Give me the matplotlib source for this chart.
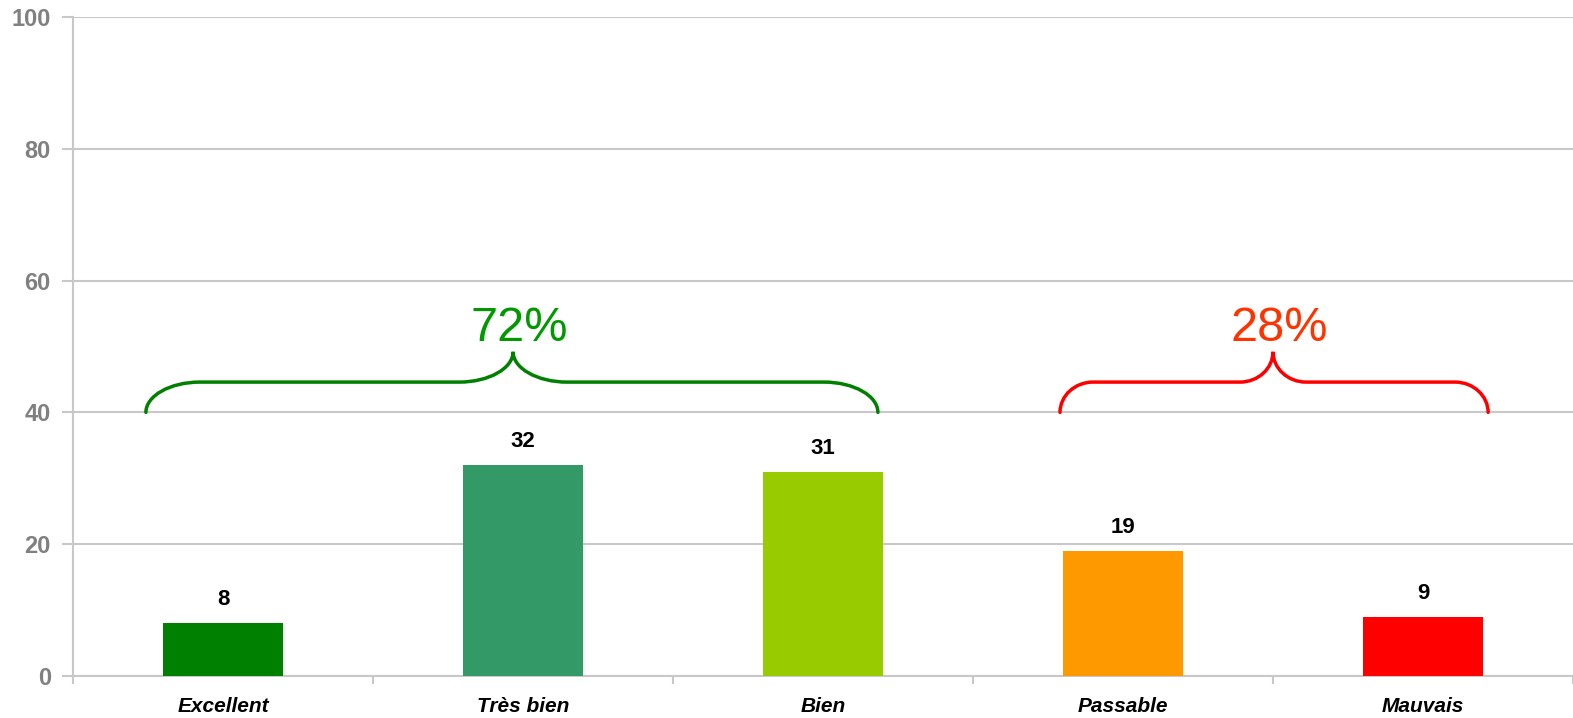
import numpy as np
import matplotlib
matplotlib.use("Agg")
import matplotlib.pyplot as plt
from matplotlib.path import Path
from matplotlib.patches import PathPatch

plt.rcParams['font.family'] = ['Liberation Sans', 'DejaVu Sans']

# Données
categories = ["Excellent", "Très bien", "Bien", "Passable", "Mauvais"]
valeurs = [8, 32, 31, 19, 9]
couleurs = ["#008000", "#339966", "#99CC00", "#FF9900", "#FF0000"]

groupes = ["72%", "28%"]
groupes_debut = [-0.257, 2.79]
groupes_fin = [2.183, 4.217]
groupes_milieu = [0.967, 3.5]
groupes_courbe = [0.18, 0.11]
groupes_couleur_trait = ["#008000", "#FF0000"]
groupes_couleur_texte = ["#009900", "#FF3300"]

fig = plt.figure(figsize=(15.73, 7.18), dpi=100)
ax = fig.add_axes([73 / 1573, 1 - 676 / 718, 1 - 73 / 1573, (676 - 17) / 718])

x = np.arange(len(categories))
ax.bar(x, valeurs, width=0.4, color=couleurs, zorder=3)

for xi, v in zip(x, valeurs):
    ax.text(xi, v + 2.0, str(v), ha="center", va="bottom", fontsize=16,
            fontweight="bold", color="black")

ax.set_xlim(-0.5, len(categories) - 0.5)
ax.set_ylim(0, 100)
ax.set_yticks(np.arange(0, 101, 20))
ax.yaxis.grid(True, color="#C8C8C8", linewidth=1.5, zorder=0)
ax.set_axisbelow(True)

ax.set_xticks(x)
ax.set_xticklabels(categories, fontsize=15, fontweight="bold", style="italic")
ax.set_xticks(np.arange(-0.5, len(categories)), minor=True)
ax.tick_params(axis="x", which="major", length=0, pad=15)
ax.tick_params(axis="x", which="minor", length=6, width=1.5, color="#C8C8C8")
ax.tick_params(axis="y", length=8, width=1.5, color="#C8C8C8", pad=8,
               labelsize=17, labelcolor="#808080")
for lab in ax.get_yticklabels():
    lab.set_fontweight("bold")

for s in ["top", "right"]:
    ax.spines[s].set_visible(False)
for s in ["left", "bottom"]:
    ax.spines[s].set_color("#C8C8C8")
    ax.spines[s].set_linewidth(1.5)

# Accolades
y0, y1, y2 = 40, 44.6, 49.2
k = 0.55
for txt, a, b, m, w, ct, cx in zip(groupes, groupes_debut, groupes_fin, groupes_milieu,
                                   groupes_courbe, groupes_couleur_trait, groupes_couleur_texte):
    h1 = y1 - y0
    h2 = y2 - y1
    verts = [
        (a, y0),
        (a, y0 + k * h1), (a + w - k * w, y1), (a + w, y1),
        (m - w, y1),
        (m - w + k * w, y1), (m, y2 - k * h2), (m, y2),
        (m, y2 - k * h2), (m + w - k * w, y1), (m + w, y1),
        (b - w, y1),
        (b - w + k * w, y1), (b, y0 + k * h1), (b, y0),
    ]
    codes = [Path.MOVETO,
             Path.CURVE4, Path.CURVE4, Path.CURVE4,
             Path.LINETO,
             Path.CURVE4, Path.CURVE4, Path.CURVE4,
             Path.CURVE4, Path.CURVE4, Path.CURVE4,
             Path.LINETO,
             Path.CURVE4, Path.CURVE4, Path.CURVE4]
    ax.add_patch(PathPatch(Path(verts, codes), facecolor="none", edgecolor=ct,
                           linewidth=2.5, zorder=4, capstyle="round"))
    ax.text(m + 0.02, 50.8, txt, ha="center", va="baseline", fontsize=35, color=cx)

fig.savefig("out.png", dpi=100)
